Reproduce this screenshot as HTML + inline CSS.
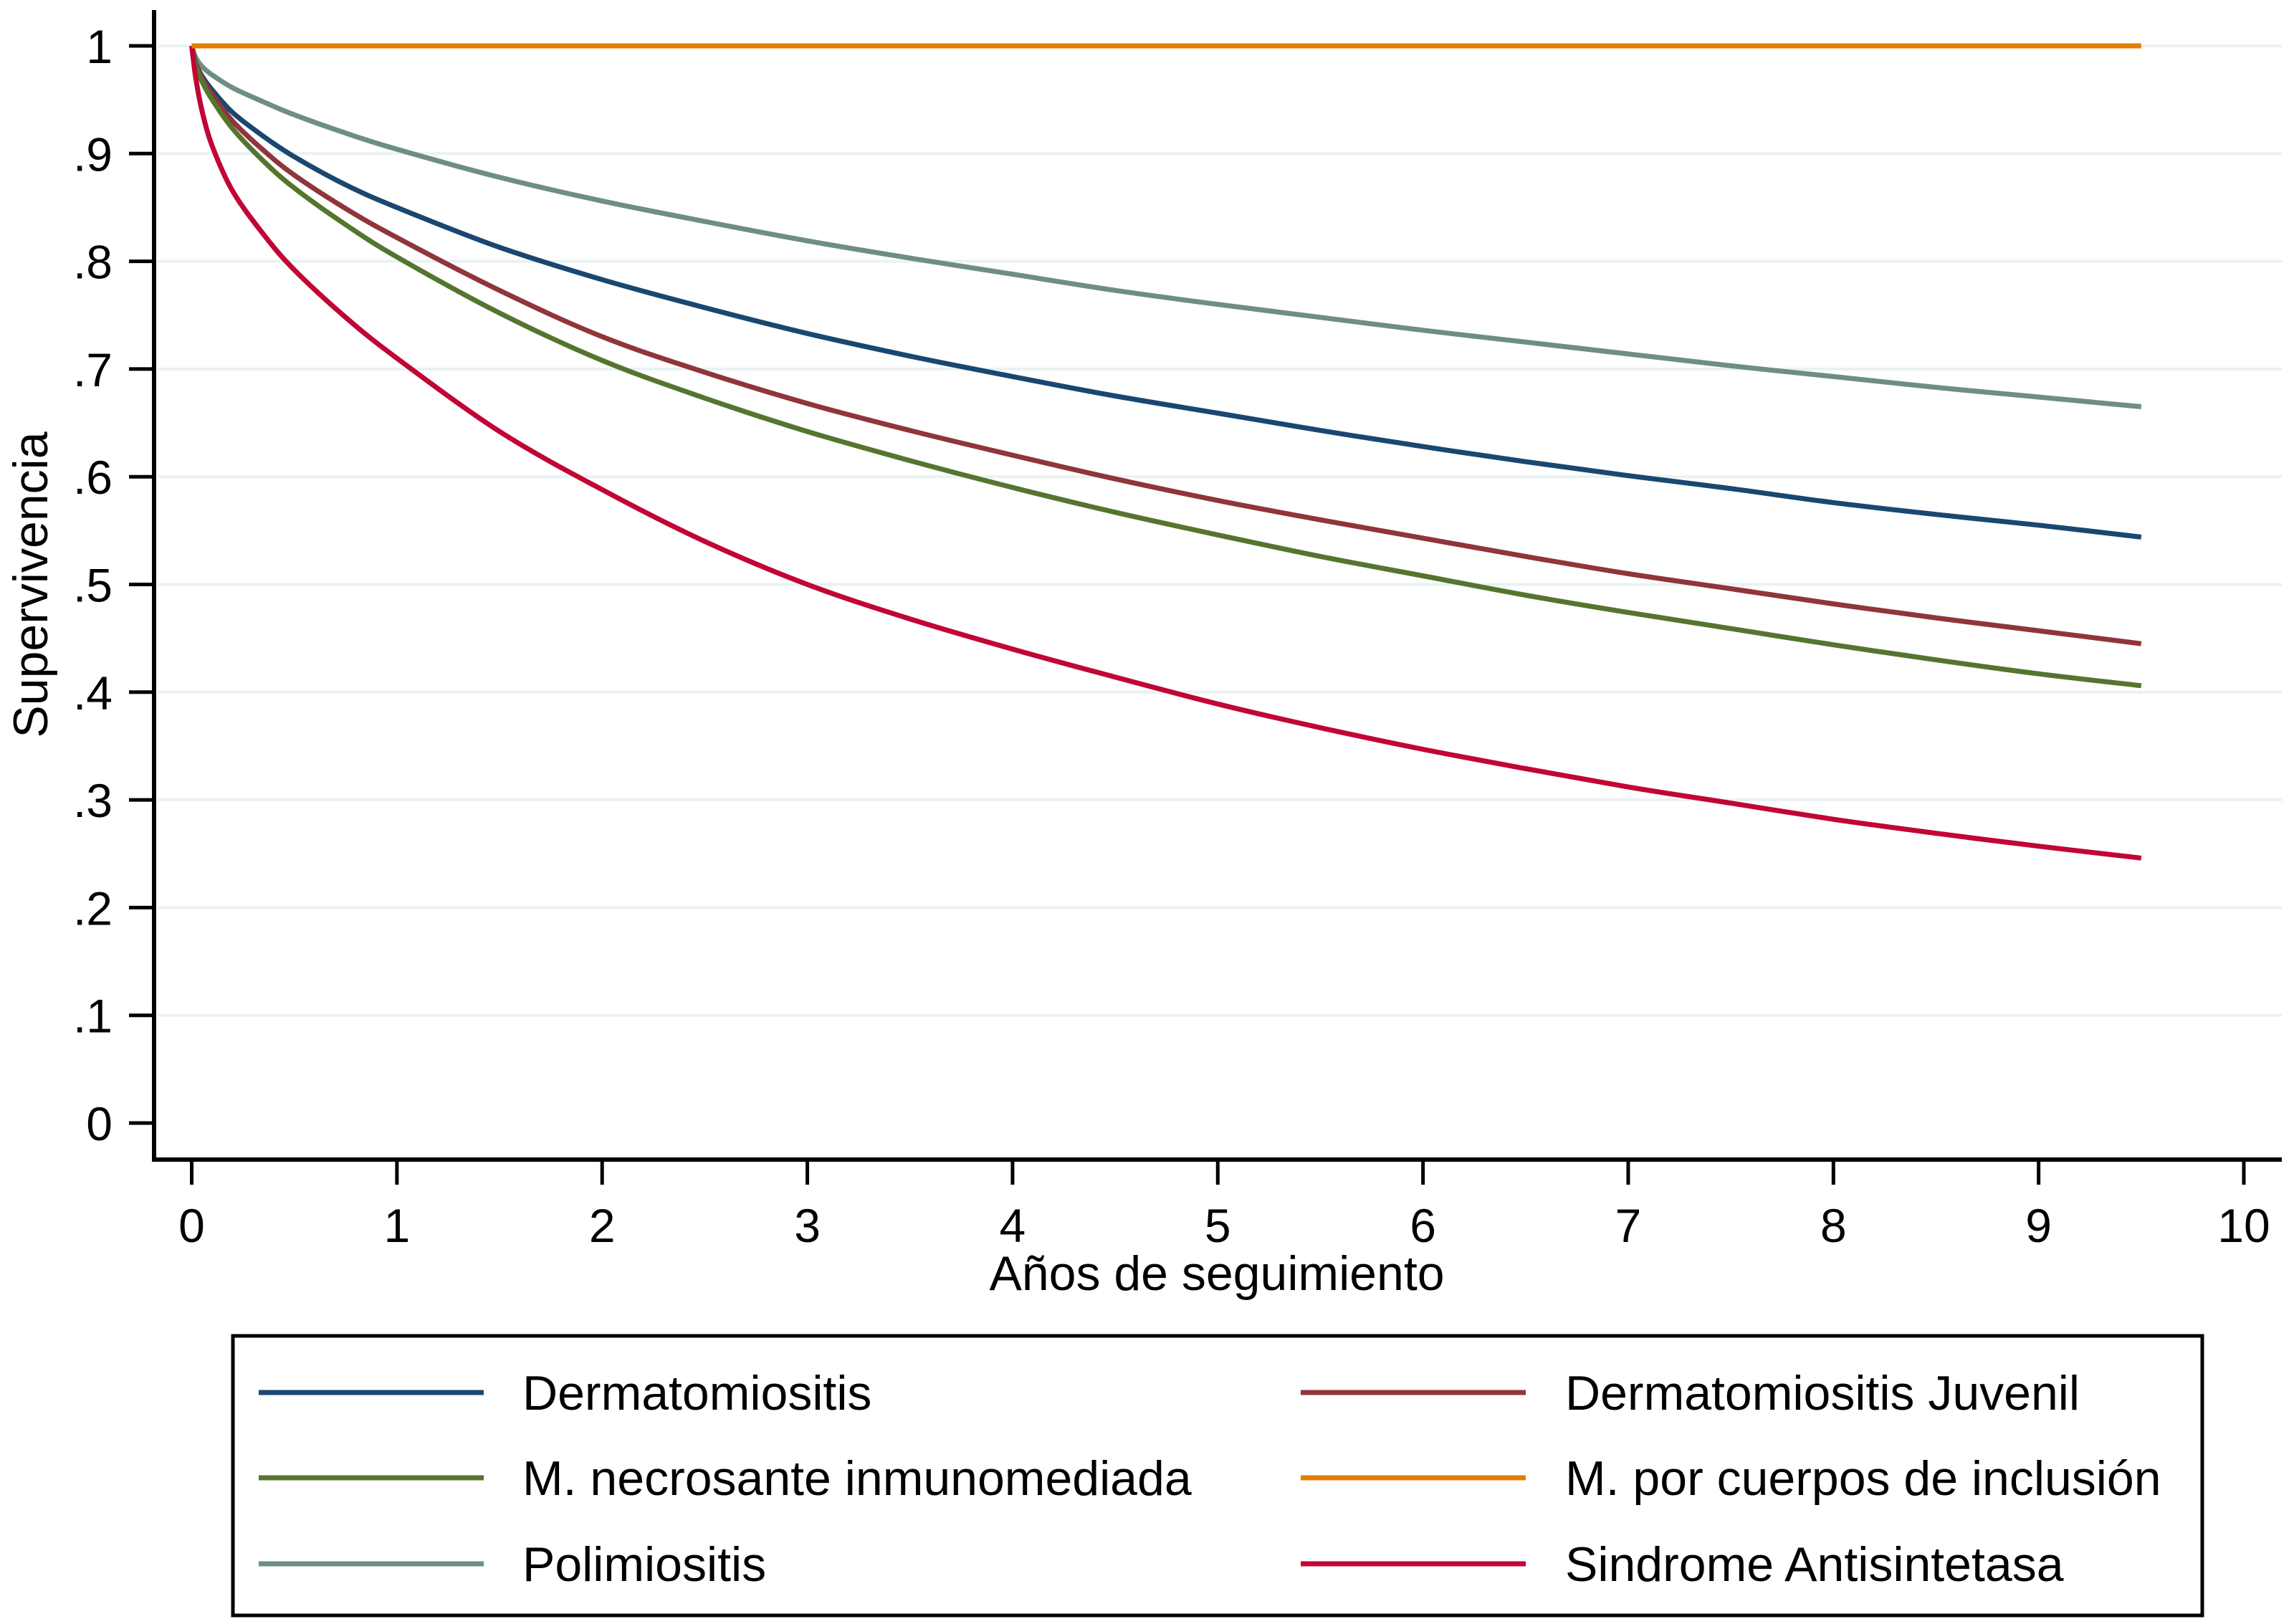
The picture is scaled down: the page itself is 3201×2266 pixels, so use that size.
<!DOCTYPE html>
<html><head><meta charset="utf-8"><style>
html,body{margin:0;padding:0;background:#fff}
svg{display:block;font-family:"Liberation Sans",Arial,sans-serif}
</style></head><body>
<svg id="chart" width="3201" height="2266" viewBox="0 0 3201 2266" xmlns="http://www.w3.org/2000/svg">
<rect x="0" y="0" width="3201" height="2266" fill="#ffffff"/>
<g id="grid"></g>
<g id="axes"></g>
<g id="series"></g>
<text x="1698" y="1800" font-size="68" text-anchor="middle" fill="#000">Años de seguimiento</text>
<text x="0" y="0" font-size="68" text-anchor="middle" fill="#000" transform="translate(66,816) rotate(-90)">Supervivencia</text>
<g id="legend">
<rect x="325" y="1864" width="2748" height="390" fill="#fff" stroke="#000" stroke-width="5"/>
</g>
</svg>
<script>
const times = [0,0.02,0.05,0.1,0.2,0.35,0.5,0.75,1,1.5,2,2.5,3,3.5,4,4.5,5,5.5,6,6.5,7,7.5,8,8.5,9,9.5];
const seriesNames = ["Dermatomiositis","Dermatomiositis Juvenil","M. necrosante inmunomediada","M. por cuerpos de inclusión","Polimiositis","Sindrome Antisintetasa"];
const dermatomiositis = [1,0.984,0.972,0.959,0.938,0.916,0.897,0.871,0.850,0.813,0.783,0.757,0.733,0.712,0.693,0.675,0.659,0.643,0.628,0.614,0.601,0.589,0.576,0.565,0.555,0.544];
const dmJuvenil = [1,0.984,0.970,0.955,0.930,0.903,0.880,0.849,0.822,0.773,0.730,0.697,0.668,0.643,0.620,0.598,0.578,0.560,0.543,0.526,0.510,0.496,0.482,0.469,0.457,0.445];
const mnim = [1,0.982,0.967,0.950,0.923,0.893,0.868,0.834,0.804,0.752,0.708,0.673,0.642,0.615,0.590,0.567,0.546,0.526,0.508,0.490,0.474,0.459,0.444,0.430,0.417,0.406];
const inclusion = [1,1,1,1,1,1,1,1,1,1,1,1,1,1,1,1,1,1,1,1,1,1,1,1,1,1];
const polimiositis = [1,0.989,0.981,0.973,0.961,0.948,0.936,0.919,0.904,0.878,0.856,0.837,0.819,0.803,0.788,0.773,0.760,0.748,0.736,0.725,0.714,0.703,0.693,0.683,0.674,0.665];
const antisintetasa = [1,0.970,0.940,0.907,0.865,0.825,0.792,0.748,0.710,0.642,0.588,0.540,0.500,0.468,0.440,0.414,0.389,0.367,0.347,0.329,0.312,0.297,0.282,0.269,0.257,0.246];
const seriesColors = ["#1a476f","#90353b","#55752f","#e37e00","#6e8e84","#c10534"];
const yTicks = [0,0.1,0.2,0.3,0.4,0.5,0.6,0.7,0.8,0.9,1];
const yTickLabels = ["0",".1",".2",".3",".4",".5",".6",".7",".8",".9","1"];
const xTicks = [0,1,2,3,4,5,6,7,8,9,10];

const NS="http://www.w3.org/2000/svg";
const X0=267.5, X10=3131, Y0=1567, Y1=64;
function sx(t){return X0+(X10-X0)*t/10;}
function sy(v){return Y0-(Y0-Y1)*v;}
function mk(tag,attrs,parent){const e=document.createElementNS(NS,tag);for(const k in attrs)e.setAttribute(k,attrs[k]);parent.appendChild(e);return e;}
const grid=document.getElementById('grid'),axes=document.getElementById('axes'),ser=document.getElementById('series'),leg=document.getElementById('legend');

yTicks.forEach((v,i)=>{
  if(v>0){const g=mk('line',{x1:220,x2:3184,y1:sy(v),y2:sy(v),stroke:'#eaf2f3','stroke-width':4},grid);
  
  }
  const t=mk('line',{x1:180,x2:215,y1:sy(v),y2:sy(v),stroke:'#000','stroke-width':5},axes);
  
  
  const l=mk('text',{x:157,y:sy(v)+24,'font-size':66,'text-anchor':'end',fill:'#000'},axes);
  l.textContent=yTickLabels[i];
  
  
});
xTicks.forEach(t=>{
  const tk=mk('line',{x1:sx(t),x2:sx(t),y1:1618,y2:1653,stroke:'#000','stroke-width':5},axes);
  
  
  const l=mk('text',{x:sx(t),y:1733,'font-size':66,'text-anchor':'middle',fill:'#000'},axes);
  l.textContent=String(t);
  
  
});
const ya=mk('line',{x1:215,x2:215,y1:14,y2:1620,stroke:'#000','stroke-width':6},axes);


const xa=mk('line',{x1:212,x2:3184,y1:1618,y2:1618,stroke:'#000','stroke-width':6},axes);



const allSeries=[dermatomiositis,dmJuvenil,mnim,inclusion,polimiositis,antisintetasa];
const drawOrder=[4,0,1,2,5,3];
drawOrder.forEach(i=>{
  const vals=allSeries[i];
  const pts=vals.map((v,j)=>[sx(times[j]),sy(v)]);
  let d='M'+pts[0][0].toFixed(1)+' '+pts[0][1].toFixed(1);
  for(let j=0;j<pts.length-1;j++){
    const p0=pts[Math.max(0,j-1)],p1=pts[j],p2=pts[j+1],p3=pts[Math.min(pts.length-1,j+2)];
    const c1x=p1[0]+(p2[0]-p0[0])/6,c1y=p1[1]+(p2[1]-p0[1])/6;
    const c2x=p2[0]-(p3[0]-p1[0])/6,c2y=p2[1]-(p3[1]-p1[1])/6;
    d+='C'+c1x.toFixed(1)+' '+c1y.toFixed(1)+' '+c2x.toFixed(1)+' '+c2y.toFixed(1)+' '+p2[0].toFixed(1)+' '+p2[1].toFixed(1);
  }
  const p=mk('path',{d:d,fill:'none',stroke:seriesColors[i],'stroke-width':7,'stroke-linejoin':'round'},ser);
  
  
});

const rowsY=[1943,2062,2182];
seriesNames.forEach((n,i)=>{
  const col=i%2,row=Math.floor(i/2);
  const lx=col?1815:361, tx=col?2184:729, y=rowsY[row];
  const ln=mk('line',{x1:lx,x2:lx+314,y1:y,y2:y,stroke:seriesColors[i],'stroke-width':7},leg);
  
  
  const t=mk('text',{x:tx,y:y+24,'font-size':68,fill:'#000'},leg);
  t.textContent=n;
  
  
});
</script>
</body></html>
